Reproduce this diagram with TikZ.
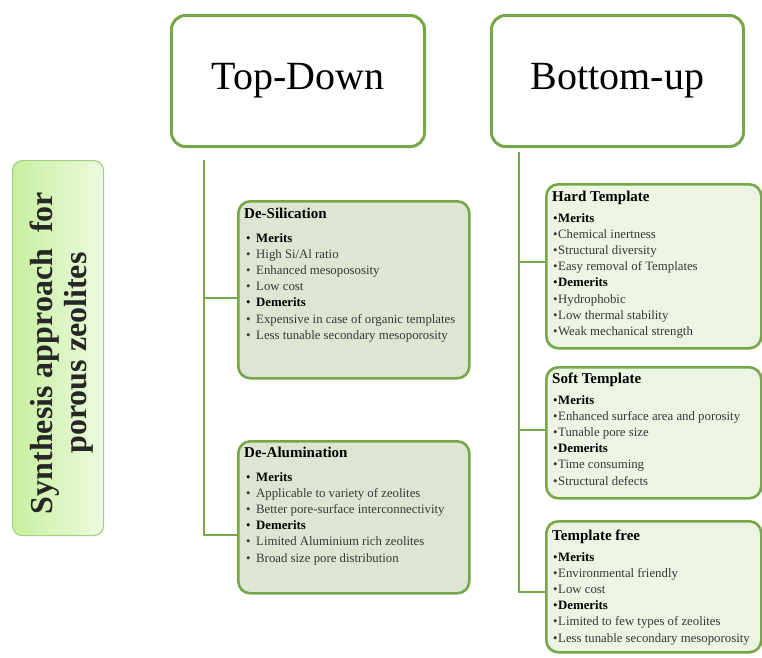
\documentclass[tikz,border=0pt]{standalone}
\usepackage{fontspec}
\setmainfont{Liberation Serif}
\definecolor{bord}{RGB}{118,168,74}
\definecolor{fillA}{RGB}{222,230,211}
\definecolor{fillB}{RGB}{236,244,228}
\definecolor{synL}{RGB}{200,240,160}
\definecolor{synR}{RGB}{236,250,222}
\definecolor{synB}{RGB}{165,208,125}
\definecolor{itemc}{RGB}{55,55,55}
\newcommand{\tdi}[1]{\makebox[10pt][l]{•}#1}
\newcommand{\tdb}[1]{\makebox[10pt][l]{\textcolor{black}{•}}\textbf{\textcolor{black}{#1}}}
\newcommand{\bui}[1]{•\hspace{0.5pt}#1}
\newcommand{\bub}[1]{\textcolor{black}{•\hspace{0.5pt}\textbf{#1}}}
\begin{document}
\begin{tikzpicture}[x=1pt,y=-1pt,
  gline/.style={draw=bord, line width=2.6pt},
  topbox/.style={draw=bord, line width=3pt, fill=white, rounded corners=14pt, anchor=north west, inner sep=0pt, font=\fontsize{40}{48}\selectfont},
  tdbox/.style={draw=bord, line width=2.6pt, fill=fillA, rounded corners=12pt, anchor=north west, inner sep=0pt},
  bubox/.style={draw=bord, line width=2.6pt, fill=fillB, rounded corners=12pt, anchor=north west, inner sep=0pt},
  ttl/.style={anchor=north west, inner sep=0pt, font=\fontsize{15}{18}\selectfont\bfseries, text=black},
  itm/.style={anchor=north west, inner sep=0pt, align=left, font=\fontsize{12.8}{16.2}\selectfont, text=itemc},
  synbox/.style={draw=synB, line width=1.2pt, left color=synL, right color=synR, rounded corners=10pt, anchor=north west, inner sep=0pt}
]
\useasboundingbox (0,0) rectangle (762,657);

% main headers
\node[topbox, minimum width=253pt, minimum height=131pt] (td) at (170,14) {Top-Down};
\node[topbox, minimum width=252pt, minimum height=131pt] (bu) at (490,14) {Bottom-up};

% left label
\node[synbox, minimum width=91pt, minimum height=375pt] (syn) at (12,160) {};
\node[rotate=90, align=center, inner sep=0pt, font=\fontsize{32}{34}\selectfont\bfseries, text=black!85] (syntxt) at (62,353) {Synthesis approach\ \ for\\porous zeolites};

% top-down boxes
\node[tdbox, minimum width=231pt, minimum height=177pt] (desil) at (237,200) {};
\node[tdbox, minimum width=231pt, minimum height=152pt] (dealu) at (237,440) {};

% bottom-up boxes
\node[bubox, minimum width=215pt, minimum height=164pt] (hard) at (545,183) {};
\node[bubox, minimum width=215pt, minimum height=131pt] (soft) at (545,366) {};
\node[bubox, minimum width=215pt, minimum height=131pt] (tfree) at (545,520) {};

% connectors
\coordinate (tdtop) at (204,160);
\coordinate (butop) at (519,152);
\draw[gline] (tdtop) |- (dealu.west |- 0,535);
\draw[gline] (tdtop |- 0,298) -- (desil.west |- 0,298);
\draw[gline] (butop) |- (tfree.west |- 0,592);
\draw[gline] (butop |- 0,262) -- (hard.west |- 0,262);
\draw[gline] (butop |- 0,430) -- (soft.west |- 0,430);

% De-Silication text
\node[ttl] (desilt) at (244,208) {De-Silication};
\node[itm] (desili) at (246,233) {\tdb{Merits}\\ \tdi{High Si/Al ratio}\\ \tdi{Enhanced\ mesopososity}\\ \tdi{Low cost}\\ \tdb{Demerits}\\ \tdi{Expensive in case of organic templates}\\ \tdi{Less tunable secondary mesoporosity}};

% De-Alumination text
\node[ttl] (dealut) at (244,447) {De-Alumination};
\node[itm] (dealui) at (246,472) {\tdb{Merits}\\ \tdi{Applicable to variety of zeolites}\\ \tdi{Better pore-surface interconnectivity}\\ \tdb{Demerits}\\ \tdi{Limited Aluminium\ rich zeolites}\\ \tdi{Broad size pore distribution}};

% Hard Template text
\node[ttl] (hardt) at (552,191) {Hard Template};
\node[itm] (hardi) at (553,213) {\bub{Merits}\\ \bui{Chemical\ inertness}\\ \bui{Structural diversity}\\ \bui{Easy removal of Templates}\\ \bub{Demerits}\\ \bui{Hydrophobic}\\ \bui{Low thermal stability}\\ \bui{Weak mechanical\ strength}};

% Soft Template text
\node[ttl] (softt) at (552,373) {Soft Template};
\node[itm] (softi) at (553,395) {\bub{Merits}\\ \bui{Enhanced\ surface area and porosity}\\ \bui{Tunable pore size}\\ \bub{Demerits}\\ \bui{Time consuming}\\ \bui{Structural defects}};

% Template free text
\node[ttl] (tfreet) at (552,530) {Template free};
\node[itm] (tfreei) at (553,552) {\bub{Merits}\\ \bui{Environmental\ friendly}\\ \bui{Low cost}\\ \bub{Demerits}\\ \bui{Limited to few types of zeolites}\\ \bui{Less tunable secondary mesoporosity}};
\end{tikzpicture}
\end{document}
